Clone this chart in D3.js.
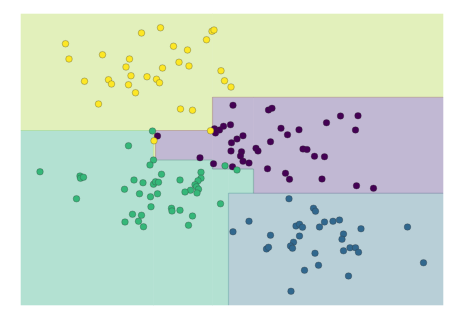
<!DOCTYPE html>
<html>
<head>
<meta charset="utf-8">
<script src="https://cdn.jsdelivr.net/npm/d3@7"></script>
<style>
  body { margin: 0; background: #fff; }
</style>
</head>
<body>
<div id="chart"></div>
<script>
// four classes (viridis colours of the points)
var classNames = ["purple", "blue", "green", "yellow"];
var pointColors = ["#440154", "#31688e", "#35b779", "#fde725"];
var regionColors = ["#c1b8d3", "#b8cfd7", "#b3e1d2", "#e2f0bb"];

// training points
var purpleX = [-1.27, 0.24, 0.95, 1.02, 2.39, 2.74, 2.11, 2.69, 0.19, 0.05, -0.03, -0.13, -0.11, 1.2, 1.33, 1.56,
  0.44, 0.32, 0.21, 0.99, 0.7, 0.74, 0.2, 0.41, 0.39, 0.44, 0.56, 0.23, -0.15, -0.42, 1.64, 1.72, 1.87, 2.07,
  0.93, 1.29, 1.37, 2.02, 2.71, 3.05];
var purpleY = [5.12, 6.35, 6.16, 6.23, 5.92, 5.93, 5.65, 5.36, 5.57, 5.51, 5.36, 5.41, 5.24, 5.43, 5.17, 5.37,
  5.13, 5.0, 4.85, 4.89, 4.63, 4.52, 4.52, 4.49, 4.32, 4.11, 4.04, 3.89, 4.01, 4.25, 4.6, 4.58, 4.31, 4.29,
  3.81, 3.63, 3.39, 3.4, 3.13, 3.03];

var blueX = [1.36, 1.85, 1.89, 0.56, 0.24, 1.5, 1.57, 1.63, 1.97, 2.07, 2.24, 2.37, 2.8, 3.73, 0.99, 1.57, 1.45,
  1.39, 1.43, 0.91, 0.95, 2.45, 2.42, 2.45, 2.58, 2.69, 2.75, 1.88, 1.95, 1.67, 2.55, 4.05, 1.4];
var blueY = [2.61, 2.23, 2.11, 1.71, 1.29, 1.52, 1.59, 1.47, 1.48, 1.68, 1.71, 1.76, 1.41, 1.48, 1.15, 1.12, 0.87,
  0.72, 0.63, 0.6, 0.67, 1.2, 0.99, 0.53, 0.65, 0.65, 0.47, 0.43, -0.05, -0.25, -0.48, 0.05, -1.09];

var greenX = [-1.37, -1.85, -1.35, -1.42, -3.62, -2.82, -2.81, -2.75, -2.89, -1.19, -1.74, -1.56, -1.35, -1.31,
  -1.25, -1.93, -1.63, -1.41, -1.27, -0.82, -0.4, -0.4, -0.46, -0.52, -0.49, -0.45, -0.61, -0.72, -0.48, -0.01,
  -1.4, -0.99, -0.98, -0.82, -1.77, -1.59, -0.57, -1.92, -1.65, -1.55, -0.65, 0.08, 0.32];
var greenY = [5.32, 4.73, 4.16, 3.96, 3.69, 3.52, 3.43, 3.47, 2.61, 3.59, 3.36, 3.25, 3.19, 3.29, 3.27, 2.99,
  2.81, 2.69, 2.81, 3.36, 3.67, 3.43, 3.33, 3.17, 3.09, 2.99, 2.95, 2.88, 2.84, 2.41, 2.29, 2.23, 2.12, 2.15,
  1.99, 1.95, 1.92, 1.68, 1.71, 1.49, 1.55, 3.93, 3.76];

var yellowX = [-3.11, -3.04, -2.37, -2.73, -2.25, -2.19, -2.45, -1.59, -1.21, -1.83, -1.9, -1.8, -1.85, -1.71,
  -1.48, -1.29, -1.23, -1.17, -0.95, -0.67, -0.84, -0.64, -0.29, -0.18, -0.14, 0.0, 0.07, 0.2, -0.81, -0.57,
  -0.21, -1.34];
var yellowY = [8.81, 8.2, 8.37, 7.31, 7.37, 7.2, 6.4, 9.24, 9.45, 8.2, 7.88, 7.53, 7.17, 6.85, 7.49, 7.39, 7.25,
  7.84, 8.71, 8.56, 8.07, 7.92, 8.97, 9.31, 9.36, 7.73, 7.33, 7.08, 6.2, 6.15, 5.33, 4.93];

// decision tree leaves: class index and box bounds
var leafClass = [3, 3, 2, 3, 0, 0, 0, 2, 2, 2, 1];
var leafX0 = [-4, -0.17, -4, -1.35, -1.31, -0.17, 0.65, -1.35, -0.17, 0.15, 0.15];
var leafX1 = [-0.17, 4.44, -1.35, -1.31, -0.17, 0.65, 4.44, -0.17, 0.15, 0.65, 4.44];
var leafY0 = [5.34, 6.67, -1.64, 4.16, 4.16, 3.8, 2.83, -1.64, -1.64, 2.83, -1.64];
var leafY1 = [10, 10, 5.34, 5.34, 5.34, 6.67, 6.67, 4.16, 3.8, 3.8, 2.83];

var svgWidth = 475, svgHeight = 328;
var margin = { top: 14, right: 32, bottom: 23, left: 21 };
var width = svgWidth - margin.left - margin.right;
var height = svgHeight - margin.top - margin.bottom;

var svg = d3.select("#chart").append("svg")
  .attr("width", svgWidth)
  .attr("height", svgHeight);

var chartGroup = svg.append("g")
  .attr("transform", `translate(${margin.left}, ${margin.top})`);

var xScale = d3.scaleLinear().domain([-4, 4.44]).range([0, width]);
var yScale = d3.scaleLinear().domain([-1.64, 10]).range([height, 0]);

var leaves = leafClass.map(function(c, i) {
  return { c: c, x0: leafX0[i], x1: leafX1[i], y0: leafY0[i], y1: leafY1[i] };
});

// filled regions (stroked in their own colour to hide seams)
chartGroup.append("g").selectAll("rect")
  .data(leaves)
  .enter()
  .append("rect")
  .attr("x", d => xScale(d.x0))
  .attr("y", d => yScale(d.y1))
  .attr("width", d => xScale(d.x1) - xScale(d.x0))
  .attr("height", d => yScale(d.y0) - yScale(d.y1))
  .attr("fill", d => regionColors[d.c])
  .attr("stroke", d => regionColors[d.c])
  .attr("stroke-width", 0.6);

// boundary segments where two leaves of different class touch
var edges = [];
leaves.forEach(function(a, i) {
  leaves.forEach(function(b, j) {
    if (j <= i || a.c === b.c) return;
    var lo, hi;
    if (a.x1 === b.x0 || a.x0 === b.x1) {
      lo = Math.max(a.y0, b.y0); hi = Math.min(a.y1, b.y1);
      var xv = a.x1 === b.x0 ? a.x1 : a.x0;
      if (hi > lo) edges.push({ x1: xv, x2: xv, y1: lo, y2: hi, a: a.c, b: b.c });
    }
    if (a.y1 === b.y0 || a.y0 === b.y1) {
      lo = Math.max(a.x0, b.x0); hi = Math.min(a.x1, b.x1);
      var yv = a.y1 === b.y0 ? a.y1 : a.y0;
      if (hi > lo) edges.push({ x1: lo, x2: hi, y1: yv, y2: yv, a: a.c, b: b.c });
    }
  });
});

chartGroup.append("g").selectAll("line")
  .data(edges)
  .enter()
  .append("line")
  .attr("x1", d => xScale(d.x1))
  .attr("x2", d => xScale(d.x2))
  .attr("y1", d => yScale(d.y1))
  .attr("y2", d => yScale(d.y2))
  .attr("stroke", d => d3.interpolateRgb(pointColors[d.a], pointColors[d.b])(0.5))
  .attr("stroke-opacity", 0.3)
  .attr("stroke-width", 1.2);

var points = [];
[[purpleX, purpleY], [blueX, blueY], [greenX, greenY], [yellowX, yellowY]].forEach(function(s, c) {
  s[0].forEach(function(x, i) { points.push({ x: x, y: s[1][i], c: c }); });
});

chartGroup.append("g").selectAll("circle")
  .data(points)
  .enter()
  .append("circle")
  .attr("cx", d => xScale(d.x))
  .attr("cy", d => yScale(d.y))
  .attr("r", 3.3)
  .attr("fill", d => pointColors[d.c])
  .attr("stroke", "#333")
  .attr("stroke-opacity", 0.5)
  .attr("stroke-width", 0.6);
</script>
</body>
</html>
